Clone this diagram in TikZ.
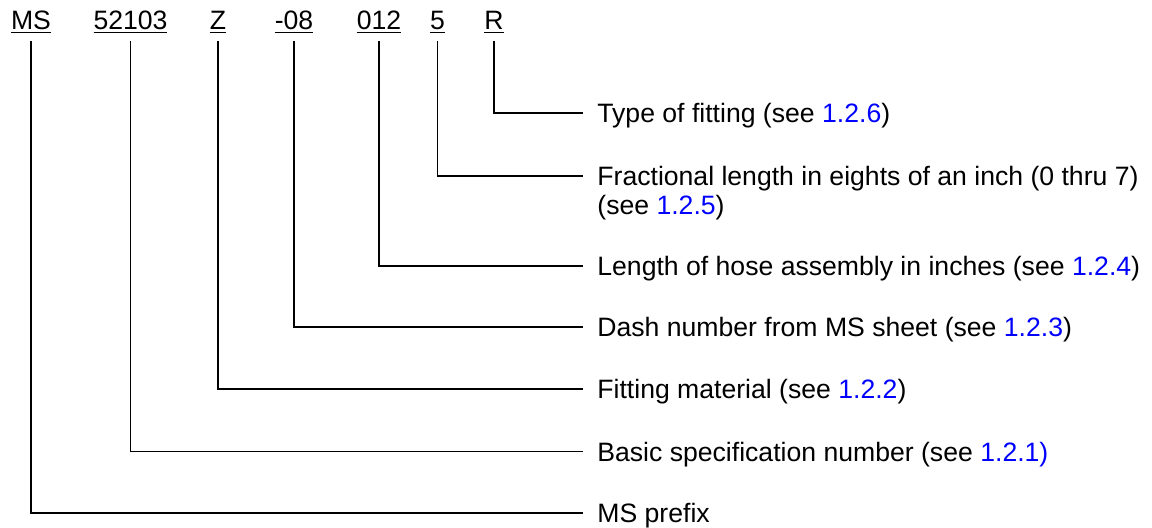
\documentclass[tikz,border=0pt]{standalone}
\usepackage{fontspec}
\setmainfont{Liberation Sans}
\usepackage{tikz}
\usetikzlibrary{positioning}
\definecolor{linkblue}{RGB}{0,0,255}

\begin{document}
\begin{tikzpicture}[
    x=0.5pt, y=-0.5pt,
    every node/.style={font=\fontsize{13.3}{14}\selectfont},
    part/.style={anchor=base, inner xsep=0pt, inner ysep=3.5pt},
    lbl/.style={anchor=west, inner xsep=7pt, inner ysep=0pt, text height=11.75pt, text depth=2.25pt},
    leader/.style={semithick}
]
\useasboundingbox (0,0) rectangle (1152,527);

% Parts of the code
\node[part] (ms)   at (31,29.5)    {\underline{MS}};
\node[part] (spec) at (130.5,29.5) {\underline{52103}};
\node[part] (mat)  at (218,29.5)   {\underline{Z}};
\node[part] (dash) at (294,29.5)   {\underline{-08}};
\node[part] (len)  at (379,29.5)   {\underline{012}};
\node[part] (frac) at (437.5,29.5) {\underline{5}};
\node[part] (type) at (494,29.5)   {\underline{R}};

% Descriptions
\node[lbl] (ttype) at (583,113) {Type of fitting (see \textcolor{linkblue}{1.2.6})};
\node[lbl] (tfrac) at (583,176) {Fractional length in eights of an inch (0 thru 7)};
\node[lbl, below=0pt of tfrac.south west, anchor=north west] (tfrac2) {(see \textcolor{linkblue}{1.2.5})};
\node[lbl] (tlen)  at (583,266) {Length of hose assembly in inches (see \textcolor{linkblue}{1.2.4})};
\node[lbl] (tdash) at (583,327) {Dash number from MS sheet (see \textcolor{linkblue}{1.2.3})};
\node[lbl] (tmat)  at (583,389) {Fitting material (see \textcolor{linkblue}{1.2.2})};
\node[lbl] (tspec) at (583,451.5) {Basic specification number (see \textcolor{linkblue}{1.2.1)}};
\node[lbl] (tms)   at (583,513) {MS prefix};

% Leaders
\draw[leader] (type.south) |- (ttype.west);
\draw[leader] (frac.south) |- (tfrac.west);
\draw[leader] (len.south)  |- (tlen.west);
\draw[leader] (dash.south) |- (tdash.west);
\draw[leader] (mat.south)  |- (tmat.west);
\draw[leader] (spec.south) |- (tspec.west);
\draw[leader] (ms.south)   |- (tms.west);

\end{tikzpicture}
\end{document}
